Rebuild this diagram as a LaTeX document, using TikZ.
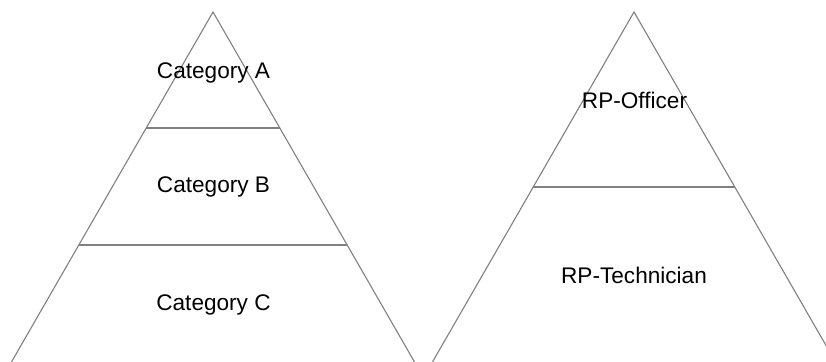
\documentclass[tikz,border=0pt]{standalone}
\usepackage{fontspec}
\setmainfont{Liberation Sans}
\begin{document}
\begin{tikzpicture}[x=1pt,y=-1pt,
  edge/.style={draw=black!50, line width=1.1pt},
  lbl/.style={anchor=base, inner sep=0pt, font=\fontsize{22.6}{27}\selectfont}]
\useasboundingbox (0,0) rectangle (826,361);
\clip (0,0) rectangle (826,361);
% left pyramid
\coordinate (LA) at (213,12);
\coordinate (LL) at (8,368);
\coordinate (LR) at (418,368);
\draw[edge] (LL) -- (LA) -- (LR);
\coordinate (L1a) at (146,128);
\coordinate (L1b) at (280,128);
\coordinate (L2a) at (79,245);
\coordinate (L2b) at (347,245);
\draw[edge] (L1a) -- (L1b);
\draw[edge] (L2a) -- (L2b);
\node[lbl] (ca) at (213.5,78) {Category A};
\node[lbl] (cb) at (213.5,192) {Category B};
\node[lbl] (cc) at (213.5,310) {Category C};
% right pyramid
\coordinate (RA) at (634,12);
\coordinate (RL) at (429,368);
\coordinate (RR) at (839,368);
\draw[edge] (RL) -- (RA) -- (RR);
\coordinate (R1a) at (533,187);
\coordinate (R1b) at (735,187);
\draw[edge] (R1a) -- (R1b);
\node[lbl] (ro) at (634.5,108) {RP-Officer};
\node[lbl] (rt) at (634,283) {RP-Technician};
\end{tikzpicture}
\end{document}
